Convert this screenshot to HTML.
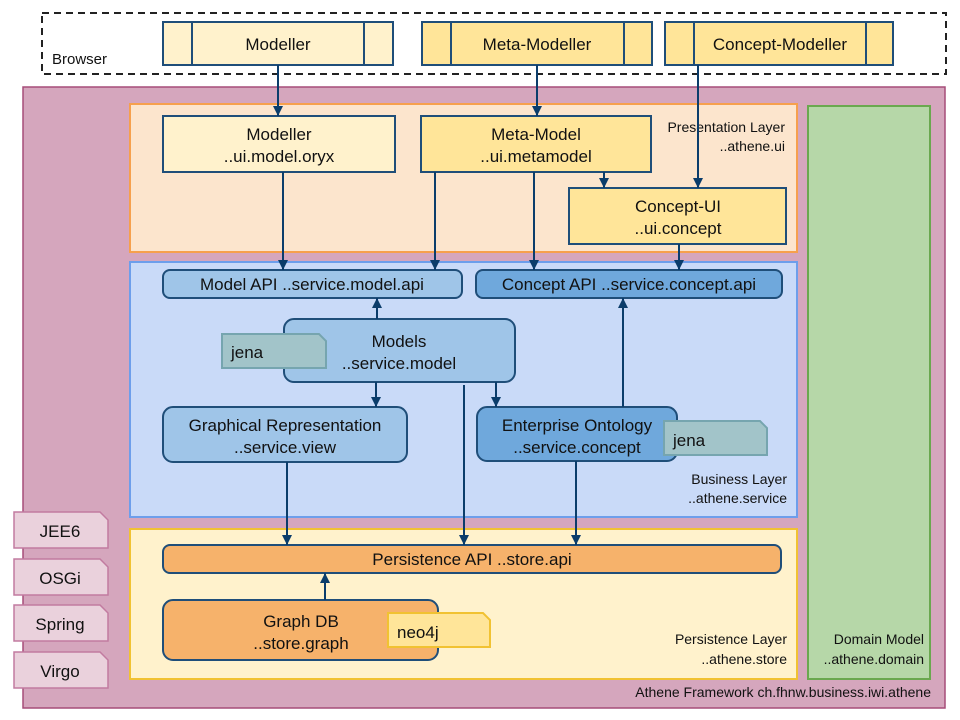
<!DOCTYPE html>
<html><head><meta charset="utf-8"><style>
html,body{margin:0;padding:0;background:#fff;}
svg{display:block;font-family:"Liberation Sans",Arial,sans-serif;}
</style></head><body>
<svg width="960" height="720" viewBox="0 0 960 720" xmlns="http://www.w3.org/2000/svg">
<defs>
<marker id="a" markerWidth="10" markerHeight="10" refX="10" refY="5" orient="auto" markerUnits="userSpaceOnUse" viewBox="0 0 10 10">
<path d="M0,0 L10,5 L0,10 z" fill="#0B3D6B"/>
</marker>
</defs>
<!-- Browser -->
<rect x="42" y="13" width="904" height="61" fill="#fff" stroke="#222" stroke-width="2" stroke-dasharray="7,5"/>
<text x="52" y="64" font-size="15" fill="#111">Browser</text>
<g stroke="#1F4E79" stroke-width="2">
<rect x="163" y="22" width="230" height="43" fill="#FFF2CC"/>
<line x1="192" y1="22" x2="192" y2="65"/><line x1="364" y1="22" x2="364" y2="65"/>
<rect x="422" y="22" width="230" height="43" fill="#FFE599"/>
<line x1="451" y1="22" x2="451" y2="65"/><line x1="624" y1="22" x2="624" y2="65"/>
<rect x="665" y="22" width="228" height="43" fill="#FFE599"/>
<line x1="694" y1="22" x2="694" y2="65"/><line x1="866" y1="22" x2="866" y2="65"/>
</g>
<g font-size="17" text-anchor="middle" fill="#111">
<text x="278" y="50">Modeller</text>
<text x="537" y="50">Meta-Modeller</text>
<text x="780" y="50">Concept-Modeller</text>
</g>
<!-- Framework -->
<rect x="23" y="87" width="922" height="621" fill="#D5A6BD" stroke="#A64D79" stroke-width="1.5"/>
<text x="931" y="697" font-size="14" text-anchor="end" fill="#111">Athene Framework   ch.fhnw.business.iwi.athene</text>
<!-- side notes -->
<g stroke="#C27BA0" stroke-width="1.5" fill="#EAD1DC">
<path d="M14,512 H100 L108,520 V548 H14 Z"/>
<path d="M14,559 H100 L108,567 V595 H14 Z"/>
<path d="M14,605 H100 L108,613 V641 H14 Z"/>
<path d="M14,652 H100 L108,660 V688 H14 Z"/>
</g>
<g font-size="17" text-anchor="middle" fill="#111">
<text x="60" y="537">JEE6</text><text x="60" y="584">OSGi</text><text x="60" y="630">Spring</text><text x="60" y="677">Virgo</text>
</g>
<!-- Domain -->
<rect x="808" y="106" width="122" height="573" fill="#B6D7A8" stroke="#6AA84F" stroke-width="2"/>
<text x="924" y="644" font-size="14" text-anchor="end" fill="#111">Domain Model</text>
<text x="924" y="664" font-size="14" text-anchor="end" fill="#111">..athene.domain</text>
<!-- Presentation -->
<rect x="130" y="104" width="667" height="148" fill="#FCE5CD" stroke="#F6A04D" stroke-width="2"/>
<text x="785" y="132" font-size="14" text-anchor="end" fill="#111">Presentation Layer</text>
<text x="785" y="151" font-size="14" text-anchor="end" fill="#111">..athene.ui</text>
<g stroke="#1F4E79" stroke-width="2">
<rect x="163" y="116" width="232" height="56" fill="#FFF2CC"/>
<rect x="421" y="116" width="230" height="56" fill="#FFE599"/>
<rect x="569" y="188" width="217" height="56" fill="#FFE599"/>
</g>
<g font-size="17" text-anchor="middle" fill="#111">
<text x="279" y="140">Modeller</text><text x="279" y="162">..ui.model.oryx</text>
<text x="536" y="140">Meta-Model</text><text x="536" y="162">..ui.metamodel</text>
<text x="678" y="212">Concept-UI</text><text x="678" y="234">..ui.concept</text>
</g>
<!-- Business -->
<rect x="130" y="262" width="667" height="255" fill="#C9DAF8" stroke="#6D9EEB" stroke-width="2"/>
<text x="787" y="484" font-size="14" text-anchor="end" fill="#111">Business Layer</text>
<text x="787" y="503" font-size="14" text-anchor="end" fill="#111">..athene.service</text>
<g stroke="#1F4E79" stroke-width="2">
<rect x="163" y="270" width="299" height="28" rx="7" fill="#9FC5E8"/>
<rect x="476" y="270" width="306" height="28" rx="7" fill="#6FA8DC"/>
<rect x="284" y="319" width="231" height="63" rx="10" fill="#9FC5E8"/>
<rect x="163" y="407" width="244" height="55" rx="10" fill="#9FC5E8"/>
<rect x="477" y="407" width="200" height="54" rx="10" fill="#6FA8DC"/>
</g>
<g stroke="#76A5AF" stroke-width="2" fill="#A2C4C9">
<path d="M222,334 H319 L326,341 V368 H222 Z"/>
<path d="M664,421 H760 L767,428 V455 H664 Z"/>
</g>
<g font-size="17" text-anchor="middle" fill="#111">
<text x="312" y="290">Model API ..service.model.api</text>
<text x="629" y="290">Concept API ..service.concept.api</text>
<text x="399" y="347">Models</text><text x="399" y="369">..service.model</text>
<text x="285" y="431">Graphical Representation</text><text x="285" y="453">..service.view</text>
<text x="577" y="431">Enterprise Ontology</text><text x="577" y="453">..service.concept</text>
</g>
<g font-size="17" fill="#111"><text x="231" y="358">jena</text><text x="673" y="446">jena</text></g>
<!-- Persistence -->
<rect x="130" y="529" width="667" height="150" fill="#FFF2CC" stroke="#F1C232" stroke-width="2"/>
<text x="787" y="644" font-size="14" text-anchor="end" fill="#111">Persistence Layer</text>
<text x="787" y="664" font-size="14" text-anchor="end" fill="#111">..athene.store</text>
<g stroke="#1F4E79" stroke-width="2" fill="#F6B26B">
<rect x="163" y="545" width="618" height="28" rx="7"/>
<rect x="163" y="600" width="275" height="60" rx="10"/>
</g>
<path d="M388,613 H483 L490,620 V647 H388 Z" fill="#FFE599" stroke="#F1C232" stroke-width="2"/>
<g font-size="17" text-anchor="middle" fill="#111">
<text x="472" y="565">Persistence API ..store.api</text>
<text x="301" y="627">Graph DB</text><text x="301" y="649">..store.graph</text>
</g>
<text x="397" y="638" font-size="17" fill="#111">neo4j</text>
<!-- arrows -->
<g stroke="#0B3D6B" stroke-width="2" fill="none" marker-end="url(#a)">
<line x1="278" y1="65" x2="278" y2="116"/>
<line x1="537" y1="65" x2="537" y2="116"/>
<line x1="698" y1="65" x2="698" y2="188"/>
<line x1="604" y1="172" x2="604" y2="188"/>
<line x1="283" y1="172" x2="283" y2="270"/>
<line x1="435" y1="172" x2="435" y2="270"/>
<line x1="534" y1="172" x2="534" y2="270"/>
<line x1="679" y1="244" x2="679" y2="270"/>
<line x1="377" y1="319" x2="377" y2="298"/>
<line x1="376" y1="382" x2="376" y2="407"/>
<line x1="496" y1="382" x2="496" y2="407"/>
<line x1="623" y1="407" x2="623" y2="298"/>
<line x1="287" y1="462" x2="287" y2="545"/>
<line x1="464" y1="385" x2="464" y2="545"/>
<line x1="576" y1="461" x2="576" y2="545"/>
<line x1="325" y1="600" x2="325" y2="573"/>
</g>
</svg>
</body></html>
